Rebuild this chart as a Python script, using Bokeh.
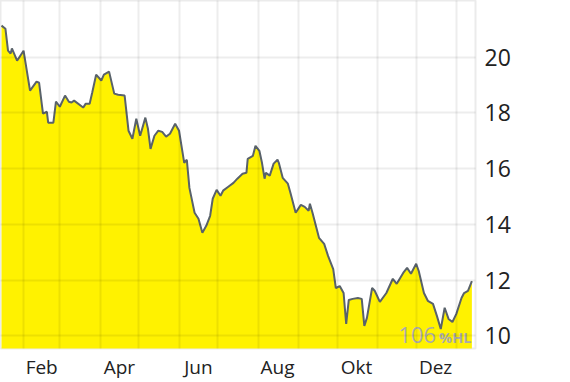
from bokeh.plotting import figure
from bokeh.models import FixedTicker, Label
from bokeh.embed import file_html
from bokeh.resources import INLINE

# day of year (Jan 1 = 0), trailing 12 months
days = [14, 17, 19, 21, 22, 26, 31, 36, 41, 43, 46, 49, 50, 54, 56, 59, 63, 66, 68, 70,
        77, 79, 82, 84, 87, 91, 93, 97, 101, 104, 109, 112, 115, 118, 121, 125, 127, 129,
        132, 135, 138, 141, 144, 148, 151, 155, 157, 159, 163, 166, 169, 172, 175, 177,
        180, 183, 185, 189, 193, 196, 200, 203, 204, 208, 210, 213, 215, 217, 218, 221,
        224, 227, 228, 231, 235, 237, 241, 245, 248, 251, 252, 254, 257, 259, 263, 266,
        270, 272, 275, 278, 280, 282, 285, 289, 292, 294, 296, 300, 302, 306, 311, 316,
        319, 324, 327, 330, 334, 336, 340, 343, 347, 350, 353, 356, 359, 362, 365, 369,
        371, 374, 377]
prices = [21.13, 21.02, 20.23, 20.13, 20.31, 19.87, 20.23, 18.80, 19.12, 19.08, 17.97,
          18.04, 17.65, 17.65, 18.40, 18.22, 18.62, 18.40, 18.37, 18.44, 18.19, 18.33,
          18.33, 18.73, 19.37, 19.16, 19.37, 19.48, 18.69, 18.65, 18.62, 17.36, 17.07,
          17.79, 17.18, 17.83, 17.43, 16.71, 17.18, 17.36, 17.32, 17.15, 17.25, 17.61,
          17.36, 16.21, 16.32, 15.31, 14.42, 14.20, 13.70, 13.95, 14.31, 14.92, 15.24,
          15.03, 15.21, 15.35, 15.49, 15.64, 15.82, 15.85, 16.35, 16.46, 16.82, 16.64,
          16.21, 15.64, 15.85, 15.75, 16.18, 16.32, 16.21, 15.67, 15.46, 15.13, 14.42,
          14.70, 14.63, 14.49, 14.74, 14.42, 13.88, 13.52, 13.30, 12.87, 12.40, 11.72,
          11.79, 11.54, 10.43, 11.29, 11.33, 11.36, 11.33, 10.36, 10.65, 11.72, 11.62,
          11.22, 11.54, 12.05, 11.87, 12.26, 12.44, 12.23, 12.59, 12.33, 11.54, 11.26,
          11.15, 10.72, 10.25, 11.01, 10.61, 10.50, 10.79, 11.36, 11.54, 11.62, 11.97]

month_starts = [31, 59, 90, 120, 151, 181, 212, 243, 273, 304, 334, 365]
label_days = [45, 105, 166, 227, 288, 349]
month_labels = ["Feb", "Apr", "Jun", "Aug", "Okt", "Dez"]
y_ticks = [10, 12, 14, 16, 18, 20]
note_value = "106"
note_unit = "%HL"

p = figure(width=570, height=382, x_range=(13.2, 379.8), y_range=(9.55, 22.03),
           y_axis_location="right", toolbar_location=None, output_backend="svg",
           min_border_left=0, min_border_top=0, min_border_right=95,
           min_border_bottom=34)
p.background_fill_color = "white"
p.border_fill_color = "white"
p.outline_line_color = "#ebebeb"
p.outline_line_width = 2

p.varea(x=days, y1=[0] * len(days), y2=prices, fill_color="#fff200")
p.line(x=days, y=prices, line_color="#59626a", line_width=2)

p.xaxis.ticker = FixedTicker(ticks=label_days)
p.xaxis.major_label_overrides = {d: m for d, m in zip(label_days, month_labels)}
p.yaxis.ticker = FixedTicker(ticks=y_ticks)
p.xgrid.ticker = FixedTicker(ticks=month_starts)
for g in (p.xgrid, p.ygrid):
    g.grid_line_color = "black"
    g.grid_line_alpha = 0.07
    g.grid_line_width = 2
    g.level = "overlay"

for ax in (p.xaxis, p.yaxis):
    ax.axis_line_color = None
    ax.major_tick_line_color = None
    ax.minor_tick_line_color = None
    ax.major_tick_out = 0
    ax.major_tick_in = 0
    ax.minor_tick_out = 0
    ax.major_label_text_font = "Open Sans"
    ax.major_label_text_color = "#222222"
p.xaxis.major_label_text_font_size = "19px"
p.yaxis.major_label_text_font_size = "23px"
p.xaxis.major_label_standoff = 5
p.yaxis.major_label_standoff = 9

p.add_layout(Label(x=320.3, y=10.02, text=note_value, text_font="Open Sans",
                   text_font_size="22px", text_color="#aaaaaa",
                   text_baseline="middle", text_align="left"))
p.add_layout(Label(x=351.7, y=9.93, text=note_unit, text_font="Open Sans",
                   text_font_size="14.5px", text_font_style="bold",
                   text_color="#aaaaaa", text_baseline="middle",
                   text_align="left"))

open("out.html", "w").write(file_html(p, INLINE))
